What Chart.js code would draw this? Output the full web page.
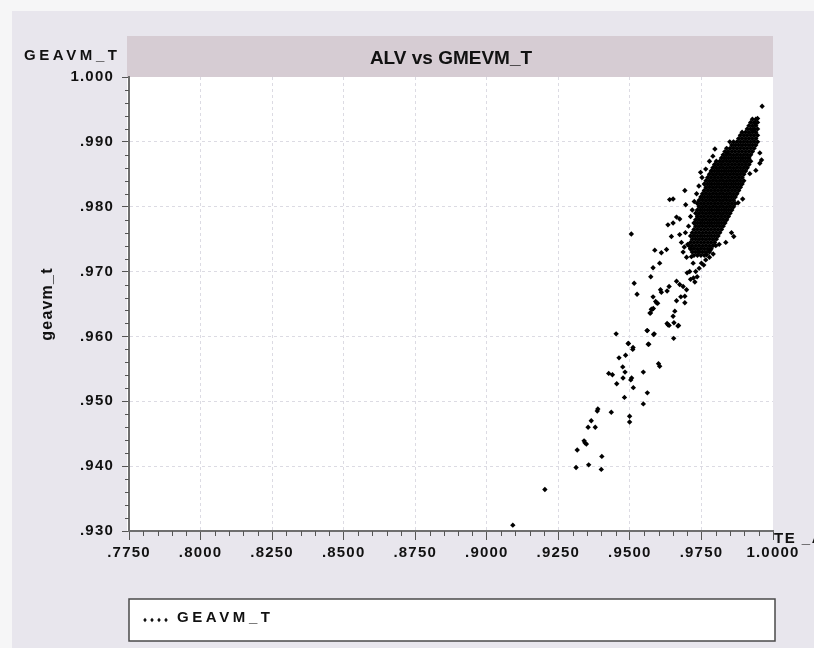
<!DOCTYPE html>
<html>
<head>
<meta charset="utf-8">
<title>ALV vs GMEVM_T</title>
<script src="https://cdn.jsdelivr.net/npm/chart.js@4.4.1/dist/chart.umd.min.js"></script>
<style>
  html, body { margin: 0; padding: 0; background: #f6f6f7; overflow: hidden; }
  #chart { display: block; }
</style>
</head>
<body>
<canvas id="chart" width="814" height="648"></canvas>
<script>
const seriesName = "GEAVM_T";
const chartTitle = "ALV vs GMEVM_T";
const yAxisTitle = "geavm_t";
const xAxisTitle = "TE _A";

const xTickLabels = [".7750", ".8000", ".8250", ".8500", ".8750", ".9000", ".9250", ".9500", ".9750", "1.0000"];
const yTickLabels = [".930", ".940", ".950", ".960", ".970", ".980", ".990", "1.000"];

// scattered observations outside the main cloud [x, y]
const sparsePoints = [
  [0.9091, 0.9309], [0.9203, 0.9364], [0.9312, 0.9398], [0.9356, 0.9402], [0.9400, 0.9395],
  [0.9402, 0.9415], [0.9316, 0.9425], [0.9340, 0.9439], [0.9343, 0.9436], [0.9348, 0.9434],
  [0.9354, 0.9460], [0.9379, 0.9460], [0.9365, 0.9470], [0.9386, 0.9485], [0.9388, 0.9488],
  [0.9435, 0.9483], [0.9481, 0.9506], [0.9499, 0.9477], [0.9499, 0.9468], [0.9547, 0.9496],
  [0.9561, 0.9513], [0.9512, 0.9521], [0.9454, 0.9527], [0.9426, 0.9543], [0.9439, 0.9541],
  [0.9476, 0.9536], [0.9483, 0.9545], [0.9475, 0.9553], [0.9503, 0.9533], [0.9506, 0.9536],
  [0.9462, 0.9567], [0.9485, 0.9571], [0.9510, 0.9580], [0.9495, 0.9589], [0.9452, 0.9604],
  [0.9547, 0.9545], [0.9566, 0.9588], [0.9560, 0.9609], [0.9585, 0.9604], [0.9600, 0.9558],
  [0.9604, 0.9554], [0.9570, 0.9636], [0.9578, 0.9642], [0.9582, 0.9643], [0.9590, 0.9654],
  [0.9597, 0.9651], [0.9653, 0.9597], [0.9630, 0.9620], [0.9637, 0.9617], [0.9654, 0.9621],
  [0.9651, 0.9631], [0.9657, 0.9639], [0.9670, 0.9617], [0.9633, 0.9618], [0.9668, 0.9616],
  [0.9561, 0.9609], [0.9583, 0.9603], [0.9564, 0.9588], [0.9494, 0.9589], [0.9511, 0.9583],
  [0.9962, 0.9955], [0.9946, 0.9936], [0.9937, 0.9929], [0.9931, 0.9918], [0.9797, 0.9889],
  [0.9849, 0.9900], [0.9840, 0.9883], [0.9954, 0.9883], [0.9960, 0.9872], [0.9747, 0.9853],
  [0.9692, 0.9825], [0.9639, 0.9811], [0.9651, 0.9812], [0.9695, 0.9803], [0.9505, 0.9758],
  [0.9663, 0.9784], [0.9674, 0.9781], [0.9633, 0.9772], [0.9651, 0.9775], [0.9645, 0.9754],
  [0.9674, 0.9757], [0.9587, 0.9733], [0.9610, 0.9729], [0.9628, 0.9734], [0.9604, 0.9713],
  [0.9573, 0.9692], [0.9581, 0.9706], [0.9515, 0.9682], [0.9525, 0.9665], [0.9581, 0.9661],
  [0.9593, 0.9652], [0.9575, 0.9642], [0.9572, 0.9636], [0.9607, 0.9672], [0.9610, 0.9668],
  [0.9630, 0.9670], [0.9637, 0.9677], [0.9663, 0.9685], [0.9674, 0.9680], [0.9686, 0.9677],
  [0.9698, 0.9672], [0.9727, 0.9684], [0.9663, 0.9655], [0.9678, 0.9661], [0.9692, 0.9662],
  [0.9692, 0.9652], [0.9791, 0.9727], [0.9835, 0.9745], [0.9855, 0.9760], [0.9863, 0.9754],
  [0.9878, 0.9806], [0.9894, 0.9812], [0.9919, 0.9851], [0.9940, 0.9856], [0.9954, 0.9867],
  [0.9768, 0.9726], [0.9750, 0.9713], [0.9758, 0.9710], [0.9739, 0.9731], [0.9715, 0.9723],
  [0.9721, 0.9713], [0.9709, 0.9700], [0.9700, 0.9698], [0.9680, 0.9745], [0.9690, 0.9738],
  [0.9702, 0.9742], [0.9686, 0.9730], [0.9698, 0.9722], [0.9712, 0.9735], [0.9694, 0.9760],
  [0.9705, 0.9770], [0.9712, 0.9785], [0.9718, 0.9795], [0.9725, 0.9808], [0.9733, 0.9820],
  [0.9741, 0.9832], [0.9752, 0.9845], [0.9765, 0.9858], [0.9778, 0.9870], [0.9790, 0.9878],
  [0.9730, 0.9700], [0.9742, 0.9705], [0.9765, 0.9718], [0.9778, 0.9722], [0.9722, 0.9690],
  [0.9735, 0.9692], [0.9712, 0.9688], [0.9780, 0.9733], [0.9800, 0.9740], [0.9812, 0.9742]
];

// dense cloud, one row of x readings per y level
const clusterY = [
  0.9725, 0.9730, 0.9735, 0.9740, 0.9745, 0.9750, 0.9755, 0.9760, 0.9765, 0.9770,
  0.9775, 0.9780, 0.9785, 0.9790, 0.9795, 0.9800, 0.9805, 0.9810, 0.9815, 0.9820,
  0.9825, 0.9830, 0.9835, 0.9840, 0.9845, 0.9850, 0.9855, 0.9860, 0.9865, 0.9870,
  0.9875, 0.9880, 0.9885, 0.9890, 0.9895, 0.9900, 0.9905, 0.9910, 0.9915, 0.9920,
  0.9925, 0.9930, 0.9935
];
const clusterX = [
  [0.9724, 0.9736, 0.9748, 0.9760],
  [0.9718, 0.9730, 0.9742, 0.9754, 0.9766, 0.9778],
  [0.9712, 0.9724, 0.9736, 0.9748, 0.9760, 0.9772, 0.9784],
  [0.9706, 0.9718, 0.9730, 0.9742, 0.9754, 0.9766, 0.9778, 0.9790],
  [0.9712, 0.9724, 0.9736, 0.9748, 0.9760, 0.9772, 0.9784, 0.9796],
  [0.9718, 0.9730, 0.9742, 0.9754, 0.9766, 0.9778, 0.9790, 0.9802],
  [0.9712, 0.9724, 0.9736, 0.9748, 0.9760, 0.9772, 0.9784, 0.9796, 0.9808],
  [0.9718, 0.9730, 0.9742, 0.9754, 0.9766, 0.9778, 0.9790, 0.9802, 0.9814],
  [0.9724, 0.9736, 0.9748, 0.9760, 0.9772, 0.9784, 0.9796, 0.9808, 0.9820],
  [0.9730, 0.9742, 0.9754, 0.9766, 0.9778, 0.9790, 0.9802, 0.9814, 0.9826],
  [0.9724, 0.9736, 0.9748, 0.9760, 0.9772, 0.9784, 0.9796, 0.9808, 0.9820, 0.9832],
  [0.9730, 0.9742, 0.9754, 0.9766, 0.9778, 0.9790, 0.9802, 0.9814, 0.9826, 0.9838],
  [0.9736, 0.9748, 0.9760, 0.9772, 0.9784, 0.9796, 0.9808, 0.9820, 0.9832, 0.9844],
  [0.9730, 0.9742, 0.9754, 0.9766, 0.9778, 0.9790, 0.9802, 0.9814, 0.9826, 0.9838, 0.9850],
  [0.9736, 0.9748, 0.9760, 0.9772, 0.9784, 0.9796, 0.9808, 0.9820, 0.9832, 0.9844, 0.9856],
  [0.9742, 0.9754, 0.9766, 0.9778, 0.9790, 0.9802, 0.9814, 0.9826, 0.9838, 0.9850, 0.9862],
  [0.9736, 0.9748, 0.9760, 0.9772, 0.9784, 0.9796, 0.9808, 0.9820, 0.9832, 0.9844, 0.9856, 0.9868],
  [0.9742, 0.9754, 0.9766, 0.9778, 0.9790, 0.9802, 0.9814, 0.9826, 0.9838, 0.9850, 0.9862],
  [0.9748, 0.9760, 0.9772, 0.9784, 0.9796, 0.9808, 0.9820, 0.9832, 0.9844, 0.9856, 0.9868],
  [0.9754, 0.9766, 0.9778, 0.9790, 0.9802, 0.9814, 0.9826, 0.9838, 0.9850, 0.9862, 0.9874],
  [0.9760, 0.9772, 0.9784, 0.9796, 0.9808, 0.9820, 0.9832, 0.9844, 0.9856, 0.9868, 0.9880],
  [0.9766, 0.9778, 0.9790, 0.9802, 0.9814, 0.9826, 0.9838, 0.9850, 0.9862, 0.9874, 0.9886],
  [0.9760, 0.9772, 0.9784, 0.9796, 0.9808, 0.9820, 0.9832, 0.9844, 0.9856, 0.9868, 0.9880, 0.9892],
  [0.9766, 0.9778, 0.9790, 0.9802, 0.9814, 0.9826, 0.9838, 0.9850, 0.9862, 0.9874, 0.9886, 0.9898],
  [0.9772, 0.9784, 0.9796, 0.9808, 0.9820, 0.9832, 0.9844, 0.9856, 0.9868, 0.9880, 0.9892],
  [0.9778, 0.9790, 0.9802, 0.9814, 0.9826, 0.9838, 0.9850, 0.9862, 0.9874, 0.9886, 0.9898],
  [0.9784, 0.9796, 0.9808, 0.9820, 0.9832, 0.9844, 0.9856, 0.9868, 0.9880, 0.9892, 0.9904],
  [0.9790, 0.9802, 0.9814, 0.9826, 0.9838, 0.9850, 0.9862, 0.9874, 0.9886, 0.9898, 0.9910],
  [0.9796, 0.9808, 0.9820, 0.9832, 0.9844, 0.9856, 0.9868, 0.9880, 0.9892, 0.9904, 0.9916],
  [0.9802, 0.9814, 0.9826, 0.9838, 0.9850, 0.9862, 0.9874, 0.9886, 0.9898, 0.9910, 0.9922],
  [0.9820, 0.9832, 0.9844, 0.9856, 0.9868, 0.9880, 0.9892, 0.9904, 0.9916],
  [0.9826, 0.9838, 0.9850, 0.9862, 0.9874, 0.9886, 0.9898, 0.9910, 0.9922],
  [0.9832, 0.9844, 0.9856, 0.9868, 0.9880, 0.9892, 0.9904, 0.9916, 0.9928],
  [0.9838, 0.9850, 0.9862, 0.9874, 0.9886, 0.9898, 0.9910, 0.9922, 0.9934],
  [0.9856, 0.9868, 0.9880, 0.9892, 0.9904, 0.9916, 0.9928, 0.9940],
  [0.9862, 0.9874, 0.9886, 0.9898, 0.9910, 0.9922, 0.9934, 0.9946],
  [0.9880, 0.9892, 0.9904, 0.9916, 0.9928, 0.9940],
  [0.9886, 0.9898, 0.9910, 0.9922, 0.9934, 0.9946],
  [0.9892, 0.9904, 0.9916, 0.9928, 0.9940],
  [0.9910, 0.9922, 0.9934, 0.9946],
  [0.9916, 0.9928, 0.9940],
  [0.9922, 0.9934, 0.9946],
  [0.9928, 0.9940]
];

const FONT = '"Liberation Sans", Arial, Helvetica, sans-serif';

let points = sparsePoints.map(function (p) { return { x: p[0], y: p[1] }; });
clusterY.forEach(function (yv, i) {
  clusterX[i].forEach(function (xv) { points.push({ x: xv, y: yv }); });
});

// hide the dashed grid line on the edges of the plot
function gridColor(c) {
  if (c.index === 0 || c.index === c.scale.ticks.length - 1) return "rgba(0,0,0,0)";
  return "#dcdbe3";
}

function diamond(ctx, x, y, r) {
  ctx.beginPath();
  ctx.moveTo(x, y - r);
  ctx.lineTo(x + r * 0.8, y);
  ctx.lineTo(x, y + r);
  ctx.lineTo(x - r * 0.8, y);
  ctx.closePath();
  ctx.fill();
}

const framePlugin = {
  id: "frame",
  beforeDraw: function (chart) {
    const ctx = chart.ctx;
    const a = chart.chartArea;
    ctx.save();
    ctx.fillStyle = "#f6f6f7";
    ctx.fillRect(0, 0, chart.width, chart.height);
    ctx.fillStyle = "#e8e6ed";
    ctx.fillRect(12, 11, chart.width - 12, chart.height - 11);
    // title band
    ctx.fillStyle = "#d6ccd3";
    ctx.fillRect(a.left - 2, 36, a.right - a.left + 2, a.top - 36);
    ctx.fillStyle = "#ffffff";
    ctx.fillRect(a.left - 2, a.top, a.right - a.left + 2, a.bottom - a.top);
    // legend box
    ctx.fillStyle = "#ffffff";
    ctx.fillRect(129, 599, 646, 42);
    ctx.strokeStyle = "#4a4a4a";
    ctx.lineWidth = 1.5;
    ctx.strokeRect(129, 599, 646, 42);
    ctx.restore();
    ctx.letterSpacing = "1.2px";
  },
  afterDraw: function (chart) {
    const ctx = chart.ctx;
    const a = chart.chartArea;
    const xs = chart.scales.x;
    const ys = chart.scales.y;
    ctx.save();

    // minor ticks
    ctx.strokeStyle = "#555555";
    ctx.lineWidth = 1;
    for (let i = 1; i < 35; i++) {
      if (i % 5 === 0) continue;
      const py = Math.round(ys.getPixelForValue(0.93 + i * 0.002)) + 0.5;
      ctx.beginPath();
      ctx.moveTo(a.left - 4, py);
      ctx.lineTo(a.left, py);
      ctx.stroke();
    }
    for (let i = 1; i < 45; i++) {
      if (i % 5 === 0) continue;
      const px = Math.round(xs.getPixelForValue(0.775 + i * 0.005)) + 0.5;
      ctx.beginPath();
      ctx.moveTo(px, a.bottom);
      ctx.lineTo(px, a.bottom + 5);
      ctx.stroke();
    }

    ctx.fillStyle = "#111111";
    ctx.textBaseline = "alphabetic";

    // chart title
    ctx.letterSpacing = "0px";
    ctx.font = "bold 19px " + FONT;
    ctx.textAlign = "center";
    ctx.fillText(chartTitle, (a.left + a.right) / 2, 64);

    // series name above the value axis
    ctx.letterSpacing = "3.6px";
    ctx.font = "bold 15px " + FONT;
    ctx.textAlign = "left";
    ctx.fillText(seriesName, 24, 60);

    // x axis title, runs off the right edge
    ctx.letterSpacing = "1.5px";
    ctx.fillText(xAxisTitle, a.right + 1, 543);

    // legend entry
    for (let k = 0; k < 4; k++) diamond(ctx, 145 + k * 7, 620, 2.2);
    ctx.letterSpacing = "3.6px";
    ctx.fillText(seriesName, 177, 622);

    ctx.restore();
    ctx.letterSpacing = "0px";
  }
};

const ctx = document.getElementById("chart");
const chart = new Chart(ctx, {
  type: "scatter",
  data: {
    datasets: [
      {
        label: seriesName,
        data: points,
        pointStyle: "rectRot",
        pointRadius: 2.7,
        pointHoverRadius: 2.7,
        backgroundColor: "#000000",
        borderWidth: 0,
      },
    ],
  },
  options: {
    responsive: false,
    animation: false,
    events: [],
    layout: { padding: { left: 0, right: 41, top: 77, bottom: 0 } },
    plugins: {
      legend: { display: false },
      tooltip: { enabled: false },
    },
    scales: {
      x: {
        type: "linear",
        min: 0.775,
        max: 1.0,
        afterFit: function (s) { s.height = 117; },
        ticks: {
          stepSize: 0.025,
          autoSkip: false,
          maxRotation: 0,
          padding: 4,
          color: "#111111",
          font: { family: FONT, size: 15, weight: "bold" },
          callback: function (v, i) { return xTickLabels[i]; },
        },
        grid: { color: gridColor, tickColor: "#555555", tickLength: 9, lineWidth: 1 },
        border: { color: "#6f6f6f", width: 2, dash: [3, 3] },
      },
      y: {
        type: "linear",
        min: 0.93,
        max: 1.0,
        afterFit: function (s) { s.width = 129; },
        ticks: {
          stepSize: 0.01,
          padding: 8,
          color: "#111111",
          font: { family: FONT, size: 15, weight: "bold" },
          callback: function (v, i) { return yTickLabels[i]; },
        },
        grid: { color: gridColor, tickColor: "#555555", tickLength: 7, lineWidth: 1 },
        border: { color: "#6f6f6f", width: 2, dash: [3, 3] },
        title: {
          display: true,
          text: yAxisTitle,
          color: "#111111",
          font: { family: FONT, size: 16, weight: "bold" },
          padding: { top: 38, bottom: 0 },
        },
      },
    },
  },
  plugins: [framePlugin],
});
</script>
</body>
</html>
